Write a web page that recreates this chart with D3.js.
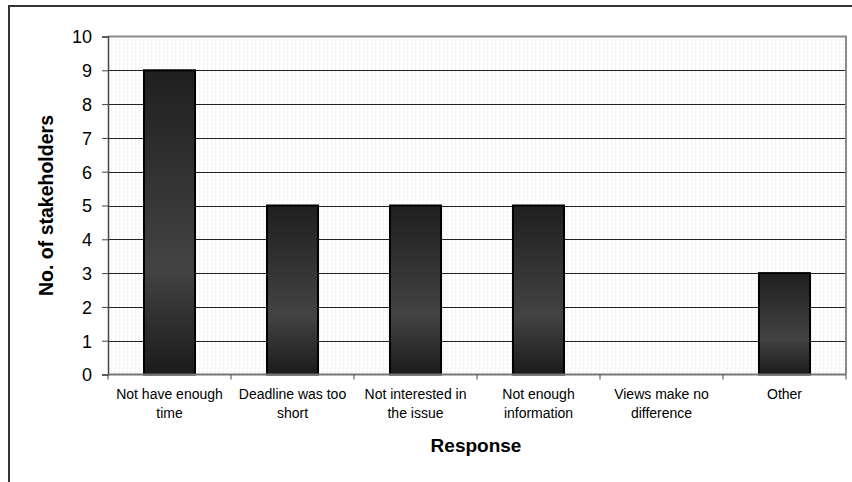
<!DOCTYPE html>
<html>
<head>
<meta charset="utf-8">
<script src="https://cdn.jsdelivr.net/npm/d3@7"></script>
<style>
  body { margin: 0; background: #fff; }
  text { font-family: Arial, "Liberation Sans", sans-serif; fill: #000; }
</style>
</head>
<body>
<div id="container"></div>
<script>
const categories = [
  ["Not have enough", "time"],
  ["Deadline was too", "short"],
  ["Not interested in", "the issue"],
  ["Not enough", "information"],
  ["Views make no", "difference"],
  ["Other"]
];
const values = [9, 5, 5, 5, 0, 3];
const yTicks = [0, 1, 2, 3, 4, 5, 6, 7, 8, 9, 10];

const width = 852, height = 482;
const plotLeft = 108, plotRight = 846, plotTop = 36.5, plotBottom = 374.5;

const svg = d3.select("#container")
  .append("svg")
    .attr("width", width)
    .attr("height", height);

const defs = svg.append("defs");

// fine grid background
const pat = defs.append("pattern")
  .attr("id", "fine")
  .attr("width", 4).attr("height", 4)
  .attr("patternUnits", "userSpaceOnUse")
  .attr("x", plotLeft).attr("y", plotTop);
pat.append("rect").attr("width", 4).attr("height", 4).attr("fill", "#fff");
pat.append("path").attr("d", "M4 0V4M0 4H4")
  .attr("stroke", "#f0f0f0").attr("stroke-width", 1).attr("fill", "none");

// bar shading
const grad = defs.append("linearGradient")
  .attr("id", "barfill")
  .attr("x1", 0).attr("y1", 0).attr("x2", 0).attr("y2", 1);
grad.append("stop").attr("offset", "0%").attr("stop-color", "#1f1f1f");
grad.append("stop").attr("offset", "65%").attr("stop-color", "#434343");
grad.append("stop").attr("offset", "100%").attr("stop-color", "#1b1b1b");

// outer frame
svg.append("path")
  .attr("d", `M9,${height} V6 H${width}`)
  .attr("fill", "none")
  .attr("stroke", "#333")
  .attr("stroke-width", 2);

const x = d3.scaleBand()
  .domain(d3.range(categories.length))
  .range([plotLeft, plotRight])
  .paddingInner(0.585)
  .paddingOuter(0.2925);

const y = d3.scaleLinear()
  .domain([0, 10])
  .range([plotBottom, plotTop]);

// plot area
svg.append("rect")
  .attr("x", plotLeft).attr("y", plotTop)
  .attr("width", plotRight - plotLeft).attr("height", plotBottom - plotTop)
  .attr("fill", "url(#fine)");

// gridlines
svg.append("g")
  .selectAll("line")
  .data(yTicks.filter((d) => d > 0 && d < 10))
  .enter()
  .append("line")
    .attr("x1", plotLeft).attr("x2", plotRight)
    .attr("y1", (d) => Math.round(y(d)) + 0.5)
    .attr("y2", (d) => Math.round(y(d)) + 0.5)
    .style("stroke", "#222");

// top and right border
svg.append("path")
  .attr("d", `M${plotLeft},${plotTop} H${plotRight} V${plotBottom}`)
  .attr("fill", "none")
  .attr("stroke", "#8a8a8a")
  .attr("stroke-width", 2);

// bars
const barData = values.map((v, i) => ({ i, v })).filter((d) => d.v > 0);
svg.append("g")
  .selectAll("rect")
  .data(barData)
  .enter()
  .append("rect")
    .attr("x", (d) => x(d.i))
    .attr("y", (d) => y(d.v))
    .attr("width", x.bandwidth())
    .attr("height", (d) => y(0) - y(d.v))
    .attr("fill", "url(#barfill)")
    .attr("stroke", "#000")
    .attr("stroke-width", 2);

// y axis
const yAxis = d3.axisLeft(y)
  .tickValues(yTicks)
  .tickSize(6)
  .tickPadding(10);
const gy = svg.append("g")
  .attr("transform", `translate(${plotLeft},0)`)
  .call(yAxis);
gy.select(".domain").attr("stroke", "#444").attr("stroke-width", 1.5);
gy.selectAll(".tick line").attr("stroke", "#444");
gy.selectAll(".tick text")
  .style("font-size", "18px")
  .attr("dy", "0.35em");

// x axis
const xEdges = d3.range(categories.length + 1)
  .map((i) => plotLeft + i * (plotRight - plotLeft) / categories.length);
svg.append("line")
  .attr("x1", plotLeft).attr("x2", plotRight)
  .attr("y1", plotBottom).attr("y2", plotBottom)
  .style("stroke", "#777")
  .style("stroke-width", 2);
svg.append("g")
  .selectAll("line")
  .data(xEdges)
  .enter()
  .append("line")
    .attr("x1", (d) => d).attr("x2", (d) => d)
    .attr("y1", plotBottom).attr("y2", plotBottom + 5)
    .style("stroke", "#444");

const labels = svg.append("g")
  .selectAll("text")
  .data(categories)
  .enter()
  .append("text")
    .attr("text-anchor", "middle")
    .attr("transform", (d, i) => `translate(${x(i) + x.bandwidth() / 2}, 399)`)
    .style("font-size", "14px");
labels.selectAll("tspan")
  .data((d) => d)
  .enter()
  .append("tspan")
    .attr("x", 0)
    .attr("dy", (d, i) => i === 0 ? 0 : 18.5)
    .text((d) => d);

// axis titles
svg.append("text")
  .text("Response")
  .attr("text-anchor", "middle")
  .attr("x", 476).attr("y", 452)
  .style("font-size", "19px")
  .style("font-weight", "bold");

svg.append("text")
  .text("No. of stakeholders")
  .attr("text-anchor", "middle")
  .attr("transform", `translate(53, ${(plotTop + plotBottom) / 2}) rotate(-90)`)
  .style("font-size", "19.5px")
  .style("font-weight", "bold");
</script>
</body>
</html>
